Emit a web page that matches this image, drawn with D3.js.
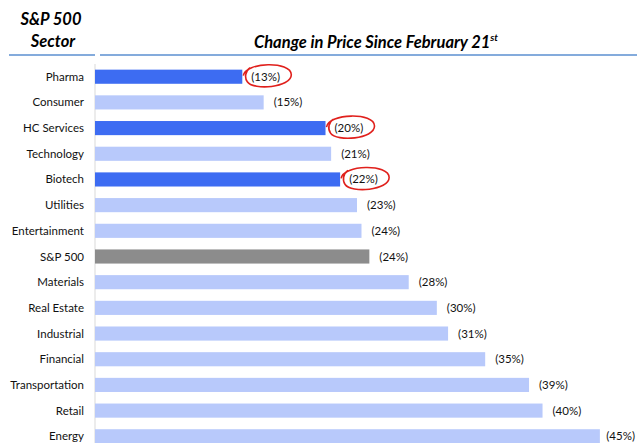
<!DOCTYPE html>
<html>
<head>
<meta charset="utf-8">
<script src="https://cdn.jsdelivr.net/npm/d3@7"></script>
<style>
  body { margin: 0; background: #fff; }
  svg text { font-family: Lato, "Open Sans", sans-serif; }
</style>
</head>
<body>
<div id="chart-area"></div>
<script>
const sectors = ["Pharma", "Consumer", "HC Services", "Technology", "Biotech", "Utilities",
  "Entertainment", "S&P 500", "Materials", "Real Estate", "Industrial", "Financial",
  "Transportation", "Retail", "Energy"]
const declines = [13.1, 15.0, 20.5, 21.0, 21.8, 23.3, 23.7, 24.4, 27.9, 30.4, 31.4, 34.7, 38.6, 39.8, 44.9]
const labels = ["(13%)", "(15%)", "(20%)", "(21%)", "(22%)", "(23%)", "(24%)", "(24%)", "(28%)",
  "(30%)", "(31%)", "(35%)", "(39%)", "(40%)", "(45%)"]
const highlighted = ["Pharma", "HC Services", "Biotech"]
const benchmark = "S&P 500"

const W = 637, H = 443
const svg = d3.select("#chart-area").append("svg")
  .attr("width", W)
  .attr("height", H)

const data = sectors.map((s, i) => ({ sector: s, value: declines[i], label: labels[i] }))

const x = d3.scaleLinear()
  .domain([0, 45])
  .range([95, 601])

const y = d3.scaleBand()
  .domain(sectors)
  .range([64, 449])
  .paddingInner(0.45)
  .paddingOuter(0.22)

// header
svg.append("text")
  .attr("x", 51).attr("y", 25)
  .attr("text-anchor", "middle")
  .style("font-size", "16.5px").style("font-weight", "bold").style("font-style", "italic")
  .text("S&P 500")
svg.append("text")
  .attr("x", 53).attr("y", 47)
  .attr("text-anchor", "middle")
  .style("font-size", "16.5px").style("font-weight", "bold").style("font-style", "italic")
  .text("Sector")

const title = svg.append("text")
  .attr("x", 376).attr("y", 48)
  .attr("text-anchor", "middle")
  .style("font-size", "16.5px").style("font-weight", "bold").style("font-style", "italic")
title.append("tspan").text("Change in Price Since February 21")
title.append("tspan").attr("dy", -7).style("font-size", "10px").text("st")

svg.append("line")
  .attr("x1", 9).attr("x2", 95).attr("y1", 55).attr("y2", 55)
  .attr("stroke", "#5b8fd0").attr("stroke-width", 1.5)
svg.append("line")
  .attr("x1", 100).attr("x2", 637).attr("y1", 55).attr("y2", 55)
  .attr("stroke", "#5b8fd0").attr("stroke-width", 1.5)

// axis line
svg.append("line")
  .attr("x1", 95).attr("x2", 95).attr("y1", 64).attr("y2", H)
  .attr("stroke", "#d9d9d9").attr("stroke-width", 1)

const color = d => highlighted.includes(d.sector) ? "#3d6cf2"
  : d.sector === benchmark ? "#8c8c8c" : "#b8c9fb"

svg.selectAll("rect.bar")
  .data(data)
  .enter().append("rect")
  .attr("class", "bar")
  .attr("x", x(0))
  .attr("y", d => y(d.sector))
  .attr("width", d => x(d.value) - x(0))
  .attr("height", y.bandwidth())
  .attr("fill", color)

svg.selectAll("text.cat")
  .data(data)
  .enter().append("text")
  .attr("class", "cat")
  .attr("x", 84)
  .attr("y", d => y(d.sector) + y.bandwidth() / 2 + 4)
  .attr("text-anchor", "end")
  .style("font-size", "11.5px")
  .attr("fill", "#111")
  .text(d => d.sector)

svg.selectAll("text.val")
  .data(data)
  .enter().append("text")
  .attr("class", "val")
  .attr("x", d => x(d.value) + (highlighted.includes(d.sector) ? 9 : 10))
  .attr("y", d => y(d.sector) + y.bandwidth() / 2 + 4)
  .style("font-size", "11.5px")
  .attr("fill", "#111")
  .text(d => d.label)
  .each(function () {
    // keep the last label inside the page
    const w = this.getComputedTextLength()
    const x0 = +this.getAttribute("x")
    if (x0 + w > W - 2) this.setAttribute("x", W - 2 - w)
  })

// red circles round the highlighted labels
svg.selectAll("path.ring")
  .data(data.filter(d => highlighted.includes(d.sector)))
  .enter().append("path")
  .attr("class", "ring")
  .attr("fill", "none")
  .attr("stroke", "#e0201c")
  .attr("stroke-width", 1.6)
  .attr("d", d => {
    const cx = x(d.value) + 26, cy = y(d.sector) + y.bandwidth() / 2
    const p = d3.path()
    p.moveTo(cx - 25, cy - 1)
    p.bezierCurveTo(cx - 23, cy - 15, cx + 23, cy - 16, cx + 23, cy - 2)
    p.bezierCurveTo(cx + 23, cy + 11, cx - 15, cy + 14, cx - 21, cy + 5)
    p.bezierCurveTo(cx - 24, cy + 1, cx - 23, cy - 6, cx - 18, cy - 9)
    return p.toString()
  })
</script>
</body>
</html>
